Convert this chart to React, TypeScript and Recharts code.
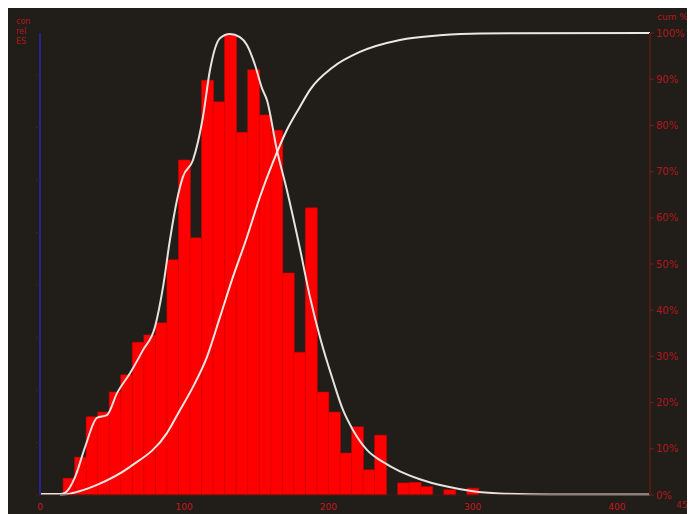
import { Bar, ComposedChart, Line, XAxis, YAxis } from 'recharts'

// histogram bins (width 8), counts
const BIN_WIDTH = 8
const binStarts = [
  16, 24, 32, 40, 48, 56, 64, 72, 80, 88, 96, 104, 112, 120, 128, 136, 144, 152,
  160, 168, 176, 184, 192, 200, 208, 216, 224, 232, 240, 248, 256, 264, 272,
  280, 288, 296,
]
const counts = [
  3.2, 7.2, 14.9, 15.8, 19.6, 22.9, 29.1, 30.5, 32.8, 44.8, 63.8, 49.0, 79.0,
  74.9, 87.6, 69.1, 81.0, 72.4, 69.5, 42.3, 27.2, 54.7, 19.6, 15.8, 8.0, 13.0,
  4.8, 11.4, 0, 2.3, 2.4, 1.6, 0, 1.0, 0, 1.3,
]

// smoothed density curve
const densityX = [
  0, 13.9, 17.3, 24.3, 31.2, 39.5, 46.4, 53.4, 62.4, 71.4, 79.7, 85.3, 90.1,
  95.0, 99.1, 106.1, 113.0, 117.9, 124.8, 131.7, 138.6, 143.5, 149.1, 153.9,
  157.4, 164.3, 171.2, 180.2, 187.2, 194.1, 203.1, 210.1, 217.0, 226.7, 237.8,
  249.6, 263.4, 282.2, 300.2, 318.9, 353.6, 423,
]
const densityY = [
  0.2, 0.2, 0.4, 3.4, 9.1, 14.7, 15.2, 19.4, 23.2, 27.6, 32.0, 39.6, 48.6,
  56.2, 60.6, 63.8, 72.0, 81.0, 87.0, 87.8, 87.2, 85.7, 81.9, 77.5, 75.2, 65.7,
  58.1, 47.0, 37.7, 30.1, 21.9, 16.2, 12.4, 8.6, 6.3, 4.5, 3.0, 1.6, 0.7, 0.3,
  0.1, 0.1,
]

// cumulative percentage
const cumX = [
  13.9, 20.8, 39.5, 62.4, 88.0, 97.1, 106.1, 115.8, 124.8, 133.8, 143.5, 152.5,
  161.5, 171.2, 180.2, 187.2, 203.1, 221.8, 249.6, 277.3, 305.0, 423,
]
const cumPct = [
  0, 0.3, 2.2, 6.1, 13.4, 18.4, 23.4, 29.9, 38.5, 47.2, 55.8, 64.5, 72.0, 79.0,
  84.0, 87.7, 92.6, 95.9, 98.5, 99.5, 99.9, 100,
]

const xTicks = [0, 100, 200, 300, 400]
const countTicks = [0, 10, 20, 30, 40, 50, 60, 70, 80]
const pctTicks = [0, 10, 20, 30, 40, 50, 60, 70, 80, 90, 100]

const barData = binStarts.map((s, i) => ({ x: s + BIN_WIDTH / 2, count: counts[i] }))
const densityData = densityX.map((x, i) => ({ x, density: densityY[i] }))
const cumData = cumX.map((x, i) => ({ x, cum: cumPct[i] }))

const RED = '#c8161c'
const FONT = 'DejaVu Sans, sans-serif'

export default function App() {
  return (
    <div
      style={{
        position: 'relative',
        marginLeft: -3,
        width: 690,
        height: 506,
        background: '#211e1a',
        fontFamily: FONT,
      }}
    >
      <div
        style={{
          position: 'absolute',
          left: 11,
          top: 9,
          color: RED,
          fontSize: 8,
          lineHeight: '10px',
          opacity: 0.85,
        }}
      >
        <div>con</div>
        <div>rel</div>
        <div>ES</div>
      </div>
      <div
        style={{
          position: 'absolute',
          left: 652,
          top: 4,
          color: RED,
          fontSize: 9,
          opacity: 0.85,
        }}
      >
        cum %
      </div>
      <div
        style={{
          position: 'absolute',
          left: 671,
          top: 492,
          color: RED,
          fontSize: 9,
          opacity: 0.85,
        }}
      >
        450
      </div>
      <ComposedChart
        width={690}
        height={506}
        data={barData}
        margin={{ top: 25, right: 0, bottom: 0, left: 0 }}
        barGap={0}
        barCategoryGap={0}
      >
        <XAxis
          dataKey="x"
          type="number"
          domain={[0, 423]}
          ticks={xTicks}
          height={19}
          axisLine={{ stroke: '#3a1c16' }}
          tickLine={false}
          tick={{ fill: RED, fontSize: 9 }}
          tickMargin={3}
        />
        {/* separate hidden axis so the bar width comes from the bin spacing only */}
        <XAxis
          xAxisId="bins"
          dataKey="x"
          type="number"
          domain={[0, 423]}
          hide
        />
        <YAxis
          yAxisId="cnt"
          domain={[0, 88]}
          ticks={countTicks}
          width={35}
          axisLine={{ stroke: '#24248e', strokeWidth: 2 }}
          tickLine={{ stroke: '#4a1a16' }}
          tickSize={4}
          tickFormatter={() => ''}
        />
        <YAxis
          yAxisId="pct"
          orientation="right"
          domain={[0, 100]}
          ticks={pctTicks}
          width={45}
          axisLine={{ stroke: '#4e1c16', strokeWidth: 2 }}
          tickLine={{ stroke: '#7a1a16' }}
          tickSize={4}
          tick={{ fill: RED, fontSize: 10, opacity: 0.85 }}
          tickFormatter={(v) => `${v}%`}
        />
        <Bar
          xAxisId="bins"
          yAxisId="cnt"
          dataKey="count"
          fill="#ff0000"
          stroke="#c80000"
          strokeWidth={0.6}
          isAnimationActive={false}
        />
        <Line
          yAxisId="cnt"
          data={densityData}
          dataKey="density"
          type="monotone"
          stroke="#e6e2de"
          strokeWidth={2}
          dot={false}
          isAnimationActive={false}
        />
        <Line
          yAxisId="pct"
          data={cumData}
          dataKey="cum"
          type="monotone"
          stroke="#ece8e4"
          strokeWidth={2}
          dot={false}
          isAnimationActive={false}
        />
      </ComposedChart>
    </div>
  )
}
